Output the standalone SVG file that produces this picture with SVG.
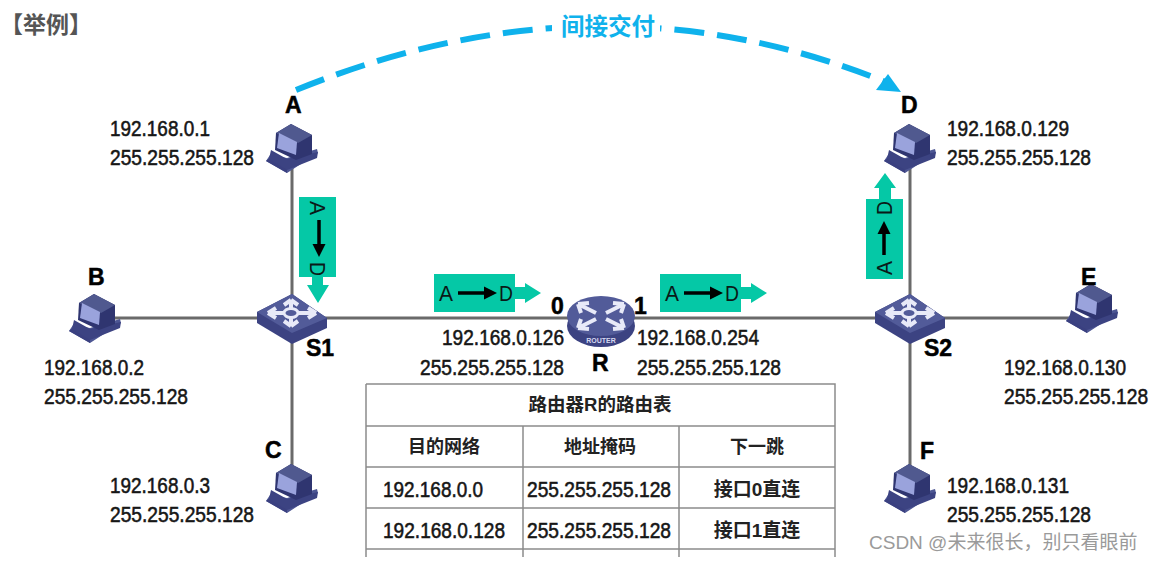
<svg xmlns="http://www.w3.org/2000/svg" width="1156" height="561" viewBox="0 0 1156 561">
<style>
text{font-family:"Liberation Sans","Noto Sans CJK SC",sans-serif;fill:#161616}
.ip{font-size:22px;stroke:#161616;stroke-width:.55}
.nm{font-size:23px;font-weight:bold;fill:#000;stroke:#000;stroke-width:.5}
.th{font-size:18px;font-weight:bold;text-anchor:middle;fill:#222}
.pk{font-size:22px;fill:#0a1a18}
.link{stroke:#6a6a6a;stroke-width:3;fill:none}
.grid{stroke:#8c8c8c;stroke-width:1.5;fill:none}
.pkt{fill:#05c8a6}
</style>
<defs>
<g id="pc">
<path d="M-26 12 L-5 24 L26 4 L25 0 L-5 9 L-22 6 Z" fill="#4d5693"/>
<path d="M-26 12 L-5 24 L-5 20 L-22 9 Z" fill="#3a4080"/>
<path d="M-21 1 L-5 10 L26 3 L25 9 L-5 21 L-23 10 Z" fill="#3c4382"/>
<path d="M-16 -16 L-1 -25 L20 -14 L20 5 L4 11 L-17 1 Z" fill="#2f3570"/>
<path d="M-16 -16 L-1 -25 L20 -14 L6 -6 Z" fill="#50598f"/>
<path d="M-13 -16 L5 -7 L4 6 L-15 -1 Z" fill="#9aa3dc"/>
</g>
<g id="sw">
<path d="M-35 -9 L0 -27 L35 -3 L35 7 L0 23 L-35 2 Z" fill="#3c4382"/>
<path d="M-35 -9 L0 -27 L35 -3 L0 12 Z" fill="#525b99"/>
<g stroke="#e8eaf8" stroke-width="4" fill="none">
<path d="M-24 -8 L24 -8"/><path d="M-1 -21 L-1 5"/>
<path d="M-24 -8 L-16 -13 M-24 -8 L-16 -3 M24 -8 L16 -13 M24 -8 L16 -3 M-1 -21 L-8 -16 M-1 -21 L6 -16 M-1 5 L-8 0 M-1 5 L6 0"/>
</g>
<ellipse cx="-1" cy="-8" rx="7" ry="4.5" fill="#525b99" stroke="#e8eaf8" stroke-width="3"/>
</g>
<path id="ah" d="M0 0 L-13 -6.5 L-13 6.5 Z" fill="#000"/>
</defs>

<g id="connectors">
<path class="link" d="M292 165 V480"/>
<path class="link" d="M110 318 H876"/>
<path class="link" d="M910 165 V490"/>
<path class="link" d="M940 318 H1075"/>
<path d="M296 90 Q600 -34 888 83" fill="none" stroke="#0fb2ec" stroke-width="6" stroke-dasharray="30 13"/>
<path d="M901 92 L876 90 L888 74 Z" fill="#0fb2ec"/>
</g>

<rect x="552" y="14" width="108" height="28" fill="#fff"/>
<text x="0" y="33" style="font-size:23px;font-weight:bold;fill:#555">【举例】</text>
<text x="608" y="35" style="font-size:23.5px;font-weight:bold;fill:#0fb2ec;text-anchor:middle">间接交付</text>

<g id="node-A"><use href="#pc" x="292" y="149"/><text class="nm" x="285" y="113">A</text>
<text class="ip" x="110" y="136" textLength="100" lengthAdjust="spacingAndGlyphs">192.168.0.1</text><text class="ip" x="110" y="165" textLength="144" lengthAdjust="spacingAndGlyphs">255.255.255.128</text></g>
<g id="node-B"><use href="#pc" x="95" y="319"/><text class="nm" x="88" y="285">B</text>
<text class="ip" x="44" y="375" textLength="100" lengthAdjust="spacingAndGlyphs">192.168.0.2</text><text class="ip" x="44" y="404" textLength="144" lengthAdjust="spacingAndGlyphs">255.255.255.128</text></g>
<g id="node-C"><use href="#pc" x="292" y="489"/><text class="nm" x="265" y="458">C</text>
<text class="ip" x="110" y="493" textLength="100" lengthAdjust="spacingAndGlyphs">192.168.0.3</text><text class="ip" x="110" y="522" textLength="144" lengthAdjust="spacingAndGlyphs">255.255.255.128</text></g>
<g id="node-D"><use href="#pc" x="910" y="149"/><text class="nm" x="901" y="113">D</text>
<text class="ip" x="947" y="136" textLength="122" lengthAdjust="spacingAndGlyphs">192.168.0.129</text><text class="ip" x="947" y="165" textLength="144" lengthAdjust="spacingAndGlyphs">255.255.255.128</text></g>
<g id="node-E"><use href="#pc" x="1092" y="309"/><text class="nm" x="1081" y="285">E</text>
<text class="ip" x="1004" y="375" textLength="122" lengthAdjust="spacingAndGlyphs">192.168.0.130</text><text class="ip" transform="translate(1004 404) scale(.873 1)">255.255.255.128</text></g>
<g id="node-F"><use href="#pc" x="910" y="489"/><text class="nm" x="920" y="459">F</text>
<text class="ip" x="947" y="493" textLength="122" lengthAdjust="spacingAndGlyphs">192.168.0.131</text><text class="ip" x="947" y="522" textLength="144" lengthAdjust="spacingAndGlyphs">255.255.255.128</text></g>

<g id="node-S1"><use href="#sw" x="292" y="321"/><text class="nm" x="306" y="356">S1</text></g>
<g id="node-S2"><use href="#sw" x="910" y="321"/><text class="nm" x="924" y="356">S2</text></g>

<g id="node-R">
<ellipse cx="601" cy="326" rx="34" ry="21" fill="#3c4382"/>
<ellipse cx="601" cy="316" rx="34" ry="20" fill="#525b99"/>
<g stroke="#e8eaf8" stroke-width="4" fill="none">
<path d="M578 304 L596 313 M578 304 L589 303 M578 304 L581 313"/>
<path d="M624 304 L606 313 M624 304 L613 303 M624 304 L621 313"/>
<path d="M578 328 L596 319 M578 328 L589 329 M578 328 L581 319"/>
<path d="M624 328 L606 319 M624 328 L613 329 M624 328 L621 319"/>
</g>
<text x="601" y="343" style="font-size:7px;font-weight:bold;fill:#d5d8f0;text-anchor:middle">ROUTER</text>
<text class="nm" x="592" y="371">R</text>
<text class="nm" x="551" y="314">0</text><text class="nm" x="634" y="314">1</text>
<text class="ip" x="442" y="345" textLength="122" lengthAdjust="spacingAndGlyphs">192.168.0.126</text><text class="ip" x="420" y="375" textLength="144" lengthAdjust="spacingAndGlyphs">255.255.255.128</text>
<text class="ip" x="637" y="345" textLength="122" lengthAdjust="spacingAndGlyphs">192.168.0.254</text><text class="ip" x="637" y="375" textLength="144" lengthAdjust="spacingAndGlyphs">255.255.255.128</text>
</g>

<g id="packet-1">
<rect class="pkt" x="299" y="197" width="37" height="80"/>
<path class="pkt" d="M312 277 H323 V285 H329 L318 303 L307 285 H312 Z"/>
<text class="pk" transform="translate(310 201) rotate(90)" textLength="14" lengthAdjust="spacingAndGlyphs">A</text>
<text class="pk" transform="translate(310 262) rotate(90)" textLength="14" lengthAdjust="spacingAndGlyphs">D</text>
<path d="M319 220 V246" stroke="#000" stroke-width="3.5"/><use href="#ah" transform="translate(319 257) rotate(90)"/>
</g>
<g id="packet-2">
<rect class="pkt" x="434" y="274" width="81" height="38"/>
<path class="pkt" d="M515 287 H525 V283 L541 293 L525 303 V299 H515 Z"/>
<text class="pk" x="439" y="301" textLength="14" lengthAdjust="spacingAndGlyphs">A</text><text class="pk" x="499" y="301" textLength="14" lengthAdjust="spacingAndGlyphs">D</text>
<path d="M458 293 H486" stroke="#000" stroke-width="3.5"/><use href="#ah" x="497" y="293"/>
</g>
<g id="packet-3">
<rect class="pkt" x="660" y="274" width="81" height="38"/>
<path class="pkt" d="M741 287 H751 V283 L767 293 L751 303 V299 H741 Z"/>
<text class="pk" x="665" y="301" textLength="14" lengthAdjust="spacingAndGlyphs">A</text><text class="pk" x="725" y="301" textLength="14" lengthAdjust="spacingAndGlyphs">D</text>
<path d="M684 293 H712" stroke="#000" stroke-width="3.5"/><use href="#ah" x="723" y="293"/>
</g>
<g id="packet-4">
<rect class="pkt" x="866" y="199" width="37" height="80"/>
<path class="pkt" d="M879 199 H891 V188 H896 L885 173 L874 188 H879 Z"/>
<text class="pk" transform="translate(892 275) rotate(-90)" textLength="14" lengthAdjust="spacingAndGlyphs">A</text>
<text class="pk" transform="translate(892 215) rotate(-90)" textLength="14" lengthAdjust="spacingAndGlyphs">D</text>
<path d="M884 255 V232" stroke="#000" stroke-width="3.5"/><use href="#ah" transform="translate(884 221) rotate(-90)"/>
</g>

<g id="routing-table">
<path class="grid" d="M366 384 H835 V557 M366 384 V557 M366 426 H835 M366 467 H835 M366 508 H835 M366 549 H835 M523 426 V557 M679 426 V557"/>
<text class="th" x="600" y="411" style="font-size:18.5px">路由器R的路由表</text>
<text class="th" x="444" y="453">目的网络</text>
<text class="th" x="600" y="453">地址掩码</text>
<text class="th" x="757" y="453">下一跳</text>
<text class="ip" x="383" y="497" textLength="100" lengthAdjust="spacingAndGlyphs">192.168.0.0</text>
<text class="ip" x="527" y="497" textLength="144" lengthAdjust="spacingAndGlyphs">255.255.255.128</text>
<text class="th" x="757" y="496" style="font-size:19px">接口0直连</text>
<text class="ip" x="383" y="538" textLength="122" lengthAdjust="spacingAndGlyphs">192.168.0.128</text>
<text class="ip" x="527" y="538" textLength="144" lengthAdjust="spacingAndGlyphs">255.255.255.128</text>
<text class="th" x="757" y="537" style="font-size:19px">接口1直连</text>
</g>
<text x="869" y="549" style="font-size:19px;fill:#9a9a9a">CSDN @未来很长，别只看眼前</text>
</svg>
